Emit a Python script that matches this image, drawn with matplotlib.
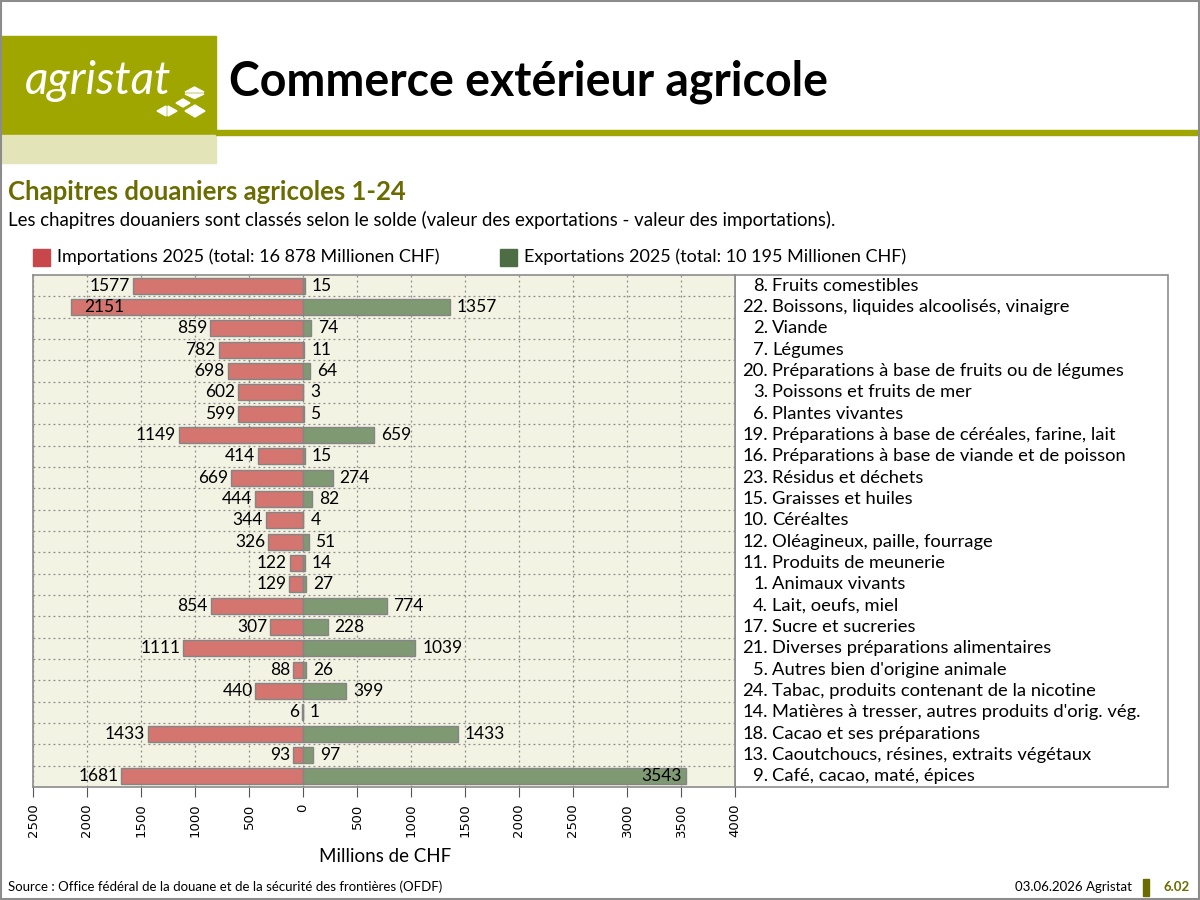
import matplotlib
matplotlib.use("Agg")
import matplotlib.pyplot as plt
from matplotlib.patches import Rectangle, Polygon
import numpy as np

plt.rcParams['font.family'] = ['Lato', 'DejaVu Sans']

# data, top to bottom as in the chart
chapters = ["8", "22", "2", "7", "20", "3", "6", "19", "16", "23", "15", "10",
            "12", "11", "1", "4", "17", "21", "5", "24", "14", "18", "13", "9"]
names = ["Fruits comestibles",
         "Boissons, liquides alcoolisés, vinaigre",
         "Viande",
         "Légumes",
         "Préparations à base de fruits ou de légumes",
         "Poissons et fruits de mer",
         "Plantes vivantes",
         "Préparations à base de céréales, farine, lait",
         "Préparations à base de viande et de poisson",
         "Résidus et déchets",
         "Graisses et huiles",
         "Céréaltes",
         "Oléagineux, paille, fourrage",
         "Produits de meunerie",
         "Animaux vivants",
         "Lait, oeufs, miel",
         "Sucre et sucreries",
         "Diverses préparations alimentaires",
         "Autres bien d'origine animale",
         "Tabac, produits contenant de la nicotine",
         "Matières à tresser, autres produits d'orig. vég.",
         "Cacao et ses préparations",
         "Caoutchoucs, résines, extraits végétaux",
         "Café, cacao, maté, épices"]
imports_2025 = [1577, 2151, 859, 782, 698, 602, 599, 1149, 414, 669, 444, 344,
                326, 122, 129, 854, 307, 1111, 88, 440, 6, 1433, 93, 1681]
exports_2025 = [15, 1357, 74, 11, 64, 3, 5, 659, 15, 274, 82, 4,
                51, 14, 27, 774, 228, 1039, 26, 399, 1, 1433, 97, 3543]
x_ticks = [-2500, -2000, -1500, -1000, -500, 0, 500, 1000, 1500, 2000, 2500, 3000, 3500, 4000]
x_ticklabels = ["2500", "2000", "1500", "1000", "500", "0", "500", "1000",
                "1500", "2000", "2500", "3000", "3500", "4000"]

OLIVE = "#a0a600"
OLIVE_DARK = "#6b6c00"
IMP = "#d4756f"
EXP = "#7f9a72"

fig = plt.figure(figsize=(12, 9), dpi=100)

# page decoration in pixel coordinates
bg = fig.add_axes([0, 0, 1, 1])
bg.set_xlim(0, 1200)
bg.set_ylim(900, 0)
bg.axis("off")

bg.add_patch(Rectangle((0, 36), 216, 99, color=OLIVE))
bg.add_patch(Rectangle((0, 135), 216, 28, color="#e3e5b9"))
bg.add_patch(Rectangle((216, 130), 984, 5, color=OLIVE))
bg.text(25, 81, "agristat", color="white", style="italic", fontsize=33, va="center")
# logo marks
logo = [
    [(185, 92), (194.5, 87), (204, 92)],
    [(185, 94), (194.5, 98.5), (204, 94)],
    [(176, 103), (183, 99), (190, 103), (183, 107)],
    [(157, 111), (166, 106), (166, 116)],
    [(168, 106), (168, 116), (177, 111)],
    [(185, 111), (195, 105), (205, 111), (195, 117)],
]
for pts in logo:
    bg.add_patch(Polygon(pts, closed=True, color="white"))

bg.text(229, 82, "Commerce extérieur agricole", fontsize=33.5, fontweight="bold", va="center")
bg.text(8, 192, "Chapitres douaniers agricoles 1-24", fontsize=18.5, fontweight="bold",
        color=OLIVE_DARK, va="center")
bg.text(8, 220, "Les chapitres douaniers sont classés selon le solde "
        "(valeur des exportations - valeur des importations).", fontsize=13.4, va="center")

# legend
bg.add_patch(Rectangle((33, 249), 17, 17, color="#c8474a"))
bg.text(57, 257, "Importations 2025 (total: 16 878 Millionen CHF)", fontsize=13, va="center")
bg.add_patch(Rectangle((500, 249), 17, 17, color="#4d6e44"))
bg.text(524, 257, "Exportations 2025 (total: 10 195 Millionen CHF)", fontsize=13, va="center")

# label box
bg.add_patch(Rectangle((735, 275), 433, 512, facecolor="white", edgecolor="#8c8c8c", lw=1.2))

# footer
bg.text(385, 857, "Millions de CHF", fontsize=13.5, ha="center", va="center")
bg.text(8, 887, "Source : Office fédéral de la douane et de la sécurité des frontières (OFDF)",
        fontsize=9.5, va="center")
bg.text(1132, 887, "03.06.2026 Agristat", fontsize=9.5, ha="right", va="center")
bg.add_patch(Rectangle((1143, 879), 6, 17, color="#6b6c00"))
bg.text(1190, 887, "6.02", fontsize=9.5, fontweight="bold", color=OLIVE_DARK, ha="right", va="center")
bg.add_patch(Rectangle((0.5, 0.5), 1198.5, 898, fill=False, edgecolor="#8c8c8c", lw=1.5))

# chart
ax = fig.add_axes([33 / 1200, 1 - 787 / 900, 702 / 1200, 512 / 900])
ax.set_facecolor("#f3f3e4")
y = np.arange(len(names))
ax.barh(y, [-v for v in imports_2025], height=0.75, color=IMP, edgecolor="#858585", lw=1, zorder=3)
ax.barh(y, exports_2025, height=0.75, color=EXP, edgecolor="#858585", lw=1, zorder=3)
ax.set_xlim(-2500, 4000)
ax.set_ylim(len(names) - 0.5, -0.5)

for x in x_ticks:
    ax.axvline(x, color="#8a8a8a", lw=0.9, ls=(0, (1.5, 2.5)), zorder=1)
for k in range(1, len(names)):
    ax.axhline(k - 0.5, color="#8a8a8a", lw=0.9, ls=(0, (1.5, 2.5)), zorder=1)

for i, (imp, exp) in enumerate(zip(imports_2025, exports_2025)):
    if imp > 2000:
        ax.annotate(str(imp), (-imp, i), xytext=(10, 0), textcoords="offset points",
                    ha="left", va="center", fontsize=12.5, zorder=4)
    else:
        ax.annotate(str(imp), (-imp, i), xytext=(-2, 0), textcoords="offset points",
                    ha="right", va="center", fontsize=12.5, zorder=4)
    if exp > 3000:
        ax.annotate(str(exp), (exp, i), xytext=(-3, 0), textcoords="offset points",
                    ha="right", va="center", fontsize=12.5, zorder=4)
    else:
        ax.annotate(str(exp), (exp, i), xytext=(5, 0), textcoords="offset points",
                    ha="left", va="center", fontsize=12.5, zorder=4)

ax.set_xticks(x_ticks)
ax.set_xticklabels(x_ticklabels, rotation=90, fontfamily="DejaVu Sans", fontsize=9.5)
ax.tick_params(axis="x", length=7, color="#555555", pad=5)
ax.set_yticks([])
for s in ax.spines.values():
    s.set_color("#8c8c8c")
    s.set_linewidth(1.2)

# category labels, numbers right-aligned
for i, (ch, nm) in enumerate(zip(chapters, names)):
    ypx = 275 + (i + 0.5) * 512 / len(names)
    bg.text(768, ypx, ch + ".", fontsize=13.2, ha="right", va="center")
    bg.text(772, ypx, nm, fontsize=13.2, ha="left", va="center")

fig.savefig("out.png", dpi=100)
